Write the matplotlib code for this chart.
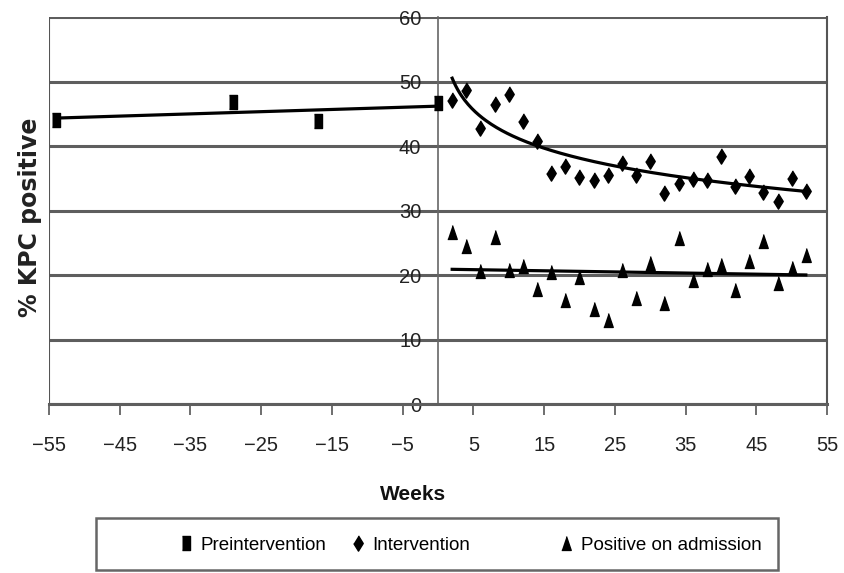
import numpy as np
import matplotlib
matplotlib.use("Agg")
import matplotlib.pyplot as plt
from matplotlib.patches import Rectangle

# values
pre_weeks = [-54, -29, -17, 0]
pre_pct = [44.0, 46.8, 43.9, 46.6]

int_weeks = [2, 4, 6, 8, 10, 12, 14, 16, 18, 20, 22, 24, 26,
             28, 30, 32, 34, 36, 38, 40, 42, 44, 46, 48, 50, 52]
int_pct = [47.2, 48.7, 42.8, 46.5, 48.0, 43.9, 40.8, 35.8, 36.9, 35.2, 34.8, 35.5, 37.3,
           35.5, 37.7, 32.7, 34.3, 34.9, 34.8, 38.4, 33.8, 35.3, 32.9, 31.5, 35.1, 33.1]
adm_pct = [26.6, 24.5, 20.6, 25.9, 20.8, 21.4, 17.9, 20.4, 16.1, 19.7, 14.8, 13.0, 20.8,
           16.4, 21.8, 15.6, 25.7, 19.2, 20.9, 21.5, 17.7, 22.2, 25.2, 18.7, 21.1, 23.1]

x_ticks = [-55, -45, -35, -25, -15, -5, 5, 15, 25, 35, 45, 55]
x_tick_labels = ["\u221255", "\u221245", "\u221235", "\u221225", "\u221215", "\u22125",
                 "5", "15", "25", "35", "45", "55"]
y_ticks = [0, 10, 20, 30, 40, 50, 60]
legend_labels = ["Preintervention", "Intervention", "Positive on admission"]

plt.rcParams["font.family"] = ["Liberation Sans", "DejaVu Sans"]

# tall marker shapes (the source image is stretched vertically)
square = [(-0.55, -1), (0.55, -1), (0.55, 1), (-0.55, 1)]
diamond = [(0, 1), (0.62, 0), (0, -1), (-0.62, 0)]
triangle = [(0, 1), (0.68, -1), (-0.68, -1)]

fig = plt.figure(figsize=(8.44, 5.73), dpi=100)
ax = fig.add_axes([0.0581, 0.2949, 0.9218, 0.6754])

ax.set_xlim(-55, 55)
ax.set_ylim(0, 60)

# trend lines
pre_fit = np.polyfit(pre_weeks, pre_pct, 1)
xs = np.linspace(min(pre_weeks), max(pre_weeks), 50)
ax.plot(xs, np.polyval(pre_fit, xs), color="black", lw=2.3, zorder=3)

int_fit = np.polyfit(np.log(int_weeks), int_pct, 1)
xs = np.linspace(min(int_weeks), max(int_weeks), 200)
ax.plot(xs, np.polyval(int_fit, np.log(xs)), color="black", lw=2.3, zorder=3)

adm_fit = np.polyfit(int_weeks, adm_pct, 1)
ax.plot(xs, np.polyval(adm_fit, xs), color="black", lw=2.3, zorder=3)

# points
h1, = ax.plot(pre_weeks, pre_pct, ls="none", marker=square, ms=9.5, color="black", zorder=4)
h2, = ax.plot(int_weeks, int_pct, ls="none", marker=diamond, ms=11, color="black", zorder=4)
h3, = ax.plot(int_weeks, adm_pct, ls="none", marker=triangle, ms=10, color="black", zorder=4)

# grid / frame
ax.set_yticks(y_ticks)
ax.grid(axis="y", color="#5e5e5e", lw=2.2)
ax.set_axisbelow(True)
ax.axvline(-55, color="#555555", lw=1.5, zorder=1)

ax.spines["top"].set_visible(False)
ax.spines["right"].set_color("#555555")
ax.spines["right"].set_linewidth(1.5)
ax.spines["left"].set_position(("data", 0))
ax.spines["left"].set_color("#666666")
ax.spines["left"].set_linewidth(1.2)
ax.spines["bottom"].set_color("#5e5e5e")
ax.spines["bottom"].set_linewidth(2.2)

ax.set_xticks(x_ticks, x_tick_labels)
ax.tick_params(axis="x", direction="out", length=8, width=1.2, color="#555555",
               pad=15, labelsize=14.5, labelcolor="#222222")
ax.tick_params(axis="y", length=0, pad=12, labelsize=14.5, labelcolor="#222222")

fig.text(413 / 844, 1 - 495 / 573, "Weeks", ha="center", va="center",
         fontsize=15, fontweight="bold", color="#111111")
fig.text(30 / 844, 1 - 217 / 573, "% KPC positive", rotation=90, ha="center", va="center",
         fontsize=17, fontweight="bold", color="#222222", family=["DejaVu Sans"])

# legend box with three entries
fig.patches.append(Rectangle((96 / 844, 3 / 573), 682 / 844, 52 / 573,
                             transform=fig.transFigure, fill=False,
                             edgecolor="#666666", lw=1.8))
legend_x = [179 / 844, 351 / 844, 559 / 844]
for handle, label, lx in zip([h1, h2, h3], legend_labels, legend_x):
    fig.legend([handle], [label], loc="center left", bbox_to_anchor=(lx, 1 - 545 / 573),
               frameon=False, fontsize=13.5, handlelength=0.7, handletextpad=0.45,
               borderpad=0, borderaxespad=0)

fig.savefig("out.png", dpi=100)
